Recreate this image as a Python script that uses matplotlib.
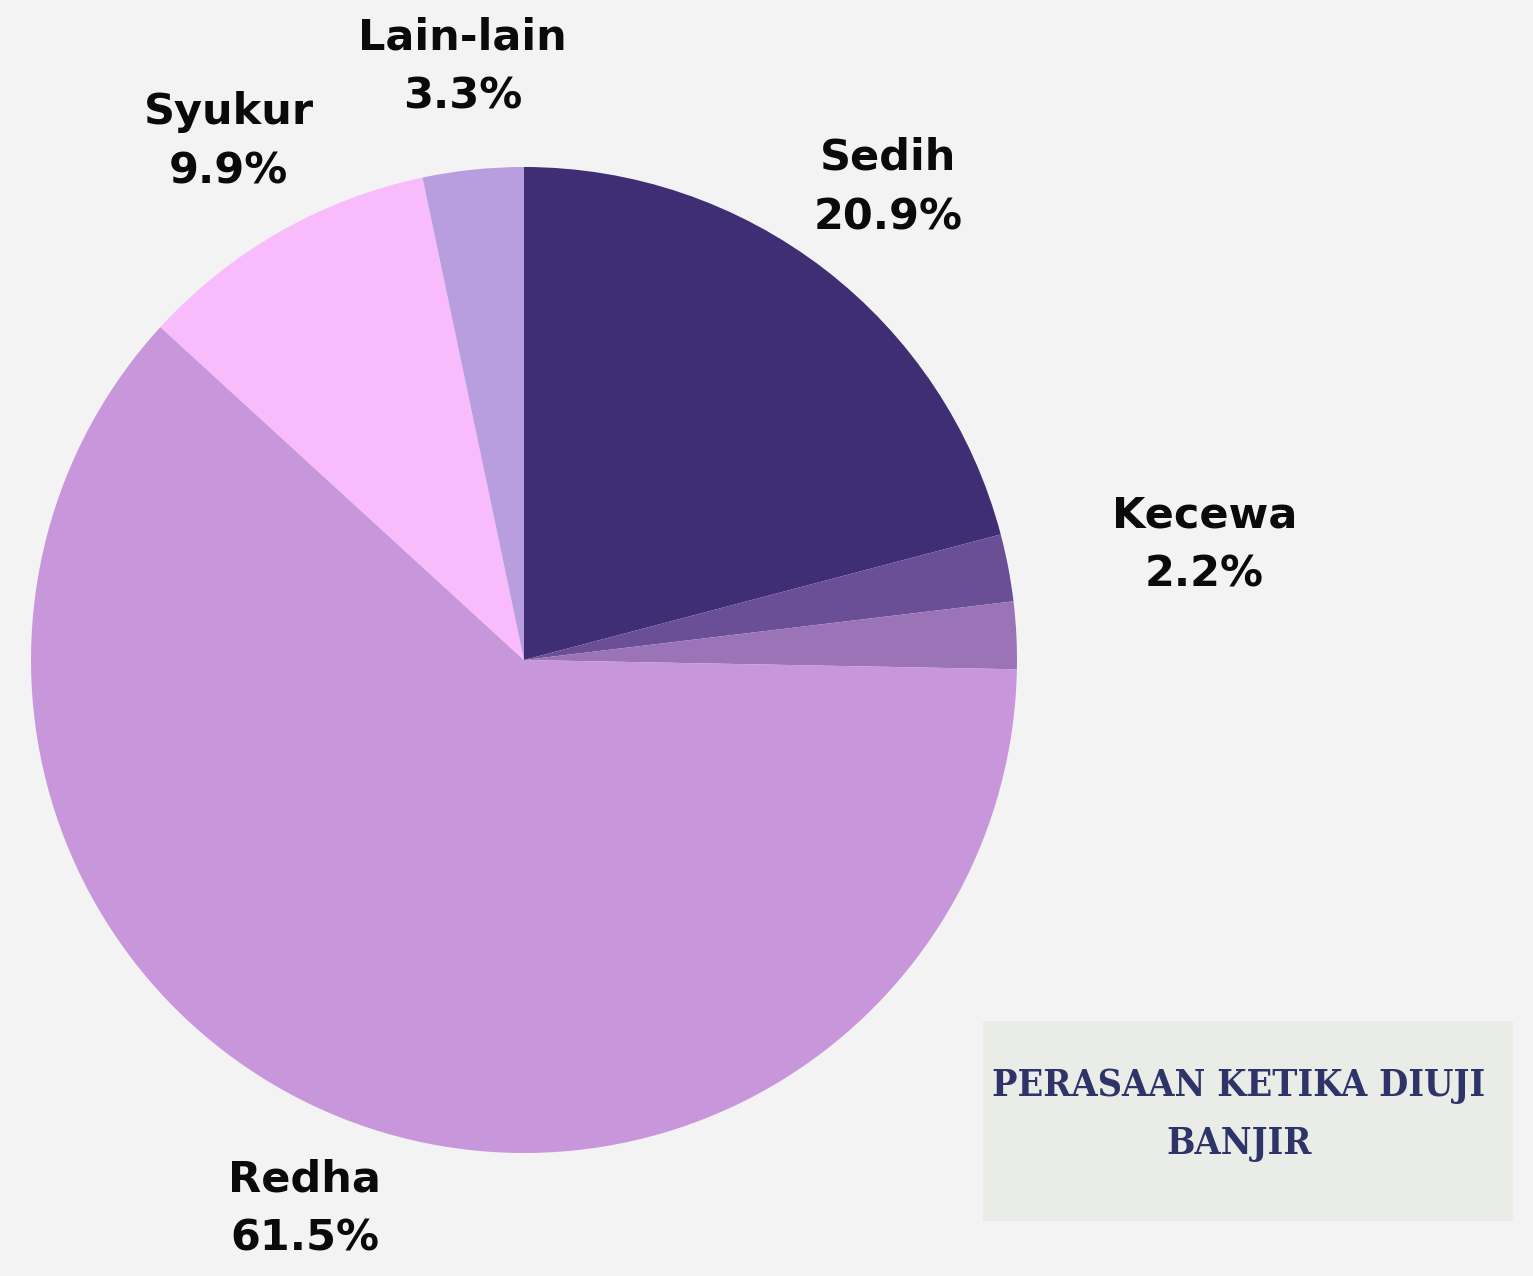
import matplotlib
matplotlib.use("Agg")
import matplotlib.pyplot as plt
from matplotlib.patches import Rectangle
import numpy as np

# Data (clockwise from 12 o'clock)
categories = ["Sedih", "Kecewa", "", "Redha", "Syukur", "Lain-lain"]
values = [20.9, 2.2, 2.2, 61.5, 9.9, 3.3]
colors = ["#3f2e73", "#6b4f96", "#9b74b8", "#c896da", "#f8bcfd", "#b89ede"]
title_lines = ["PERASAAN KETIKA DIUJI", "BANJIR"]

BG = "#f3f3f3"
W, H, DPI = 1533, 1276, 100
fig = plt.figure(figsize=(W / DPI, H / DPI), dpi=DPI, facecolor=BG)
ax = fig.add_axes([0, 0, 1, 1])
ax.set_facecolor(BG)

cx, cy, R = 524, 660, 493  # pixel centre and radius
wedges, _ = ax.pie(values, colors=colors, startangle=90, counterclock=False,
                   radius=1, wedgeprops=dict(linewidth=0))

ax.set_xlim(-cx / R, (W - cx) / R)
ax.set_ylim(-(H - cy) / R, cy / R)
ax.set_aspect("equal")
ax.axis("off")

# mid angles of slices (degrees, standard orientation)
total = float(sum(values))
cum = np.cumsum([0] + values[:-1])
mids = [90 - 360 * (c + v / 2) / total for c, v in zip(cum, values)]

# label placement: (distance, angle offset in degrees)
placement = {"Sedih": (1.21, 0), "Kecewa": (1.40, -1.2), "Redha": (1.20, 0),
             "Syukur": (1.21, 0), "Lain-lain": (1.21, 0)}
for m, name, v in zip(mids, categories, values):
    if not name:
        continue
    d, off = placement[name]
    ang = np.deg2rad(m + off)
    ax.text(d * np.cos(ang), d * np.sin(ang), f"{name}\n{v:.1f}%",
            ha="center", va="center", fontsize=31, fontweight="bold",
            family=["DejaVu Sans"], color="#0a0a0a",
            linespacing=1.52)

# Title box
fig.patches.append(Rectangle((983 / W, 1 - 1221 / H), 530 / W, 200 / H,
                             transform=fig.transFigure, facecolor="#eaece8",
                             edgecolor="none", zorder=0))
for txt, yp in zip(title_lines, [1086, 1143]):
    fig.text(1239 / W, 1 - yp / H, txt, ha="center", va="center",
             fontsize=27, fontweight="bold", fontstretch="condensed",
             family="DejaVu Serif", color="#2e3468")

fig.savefig("out.png", dpi=DPI, facecolor=BG)
